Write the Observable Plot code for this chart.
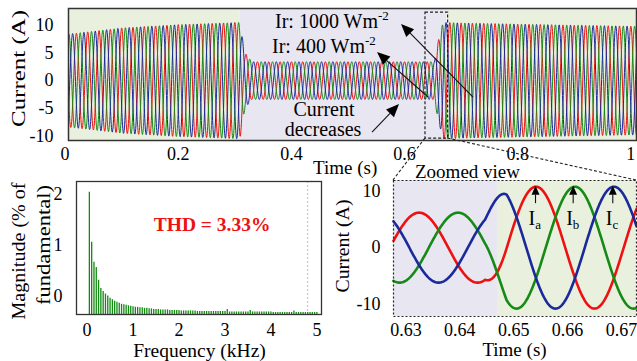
<!DOCTYPE html>
<html><head><meta charset="utf-8">
<script src="https://cdn.jsdelivr.net/npm/d3@7"></script>
<script src="https://cdn.jsdelivr.net/npm/@observablehq/plot@0.6"></script>
<style>
body{margin:0;background:#fff;}
#fig{position:relative;width:637px;height:361px;overflow:hidden;background:#fff;}
#fig svg{position:absolute;}
</style></head><body><div id="fig"></div>
<script>
const SERIF = '"Liberation Serif","Times New Roman",serif';
const RED = "#ee1111", GREEN = "#168a16", BLUE = "#1b2a9a";
const BG_GREEN = "#eaf0de", BG_LAV = "#e8e6f0";

// ---------- Top panel: three-phase grid current (50 Hz) ----------
const mainsHz = 50;
const phaseColors = [RED, GREEN, BLUE];
const phaseShiftDeg = [0, -120, -240];
// peak current envelope (time s, amplitude A)
const topEnvTime = [0.006, 0.05, 0.10, 0.20, 0.309, 0.312, 0.318, 0.33, 0.653, 0.658, 0.668, 0.70, 0.80, 0.90, 1.010];
const topEnvAmp  = [8.4, 8.9, 9.5, 10.1, 10.5, 8.5, 5.0, 3.4, 3.4, 6.5, 10.5, 10.4, 10.2, 10.0, 9.8];
const topXTicks = [0, 0.2, 0.4, 0.6, 0.8, 1];
const topYTicks = [-10, -5, 0, 5, 10];
const topShadeFrom = [0.006, 0.309, 0.675];
const topShadeTo   = [0.309, 0.675, 1.010];
const topShadeFill = [BG_GREEN, BG_LAV, BG_GREEN];
const zoomBoxTime = [0.637, 0.677];
const zoomBoxCurrent = [-10.45, 12.25];

// ---------- Zoomed panel ----------
const zoomRedPeak = 0.65415;   // time of the red peak
const zoomPeriod = 0.0217;
const zoomEnvTime = [0.6277, 0.6447, 0.6487, 0.6728];
const zoomEnvAmp  = [6.2, 6.2, 10.8, 10.8];
const zoomXTicks = [0.63, 0.64, 0.65, 0.66, 0.67];
const zoomYTicks = [-10, 0, 10];
const zoomShadeFrom = [0.6277, 0.647];
const zoomShadeTo   = [0.647, 0.6728];
const zoomShadeFill = [BG_LAV, BG_GREEN];
const peakNames = ["a", "b", "c"];
const peakTimes = [0.65415, 0.66114, 0.66849];

// ---------- FFT panel ----------
const fundamentalKHz = 0.05;
const harmonicOrder = d3.range(1, 101);
const fftMag = [
 2.04, 1.06, 0.67, 0.57, 0.32, 0.16, 0.10, 0.05, 0.01, -0.03,
 -0.06, -0.09, -0.11, -0.13, -0.15, -0.16, -0.17, -0.18, -0.19, -0.20,
 -0.21, -0.21, -0.22, -0.22, -0.23, -0.23, -0.24, -0.24, -0.25, -0.25,
 -0.25, -0.26, -0.26, -0.26, -0.26, -0.27, -0.27, -0.27, -0.27, -0.27,
 -0.28, -0.28, -0.28, -0.28, -0.28, -0.28, -0.28, -0.29, -0.29, -0.29,
 -0.29, -0.29, -0.29, -0.29, -0.29, -0.29, -0.29, -0.29, -0.29, -0.29,
 -0.25, -0.30, -0.30, -0.30, -0.30, -0.30, -0.30, -0.30, -0.30, -0.30,
 -0.27, -0.30, -0.30, -0.30, -0.30, -0.30, -0.30, -0.30, -0.30, -0.30,
 -0.31, -0.31, -0.31, -0.31, -0.31, -0.31, -0.31, -0.31, -0.31, -0.28,
 -0.31, -0.31, -0.31, -0.31, -0.31, -0.31, -0.31, -0.31, -0.31, -0.31];
const fftXTicks = [0, 1, 2, 3, 4, 5];
const fftYTicks = [0, 1, 2];
const fftBase = -0.35;
const fftMarkerKHz = [4.8];
const thdLabel = "THD = 3.33%";

// ---------- build tables ----------
const topEnv = d3.scaleLinear().domain(topEnvTime).range(topEnvAmp).clamp(true);
const topT = d3.range(0.006, 1.0101, 0.0004);
const topWaves = phaseColors.map((c, k) => topT.map(t => ({t, i: topEnv(t) * Math.cos(2*Math.PI*mainsHz*t + phaseShiftDeg[k]*Math.PI/180)})));
const topShade = topShadeFrom.map((a, j) => ({a, b: topShadeTo[j], fill: topShadeFill[j]}));
const topBox = [{t1: zoomBoxTime[0], t2: zoomBoxTime[1], i1: zoomBoxCurrent[0], i2: zoomBoxCurrent[1]}];

const zoomEnv = d3.scaleLinear().domain(zoomEnvTime).range(zoomEnvAmp).clamp(true);
const zoomT = d3.range(zoomEnvTime[0], zoomEnvTime[3] + 1e-6, 0.0001);
const zoomWaves = phaseColors.map((c, k) => zoomT.map(t => ({t, i: zoomEnv(t) * Math.cos(2*Math.PI*(t - zoomRedPeak)/zoomPeriod + phaseShiftDeg[k]*Math.PI/180)})));
const zoomShade = zoomShadeFrom.map((a, j) => ({a, b: zoomShadeTo[j], fill: zoomShadeFill[j]}));

const fft = harmonicOrder.map((h, j) => ({f: h*fundamentalKHz, m: fftMag[j]}));

const fig = document.getElementById("fig");
const baseStyle = {background: "transparent", fontFamily: SERIF, fontSize: "18px", color: "#000", overflow: "visible"};
const fmt = d => String(d);

const topPlot = Plot.plot({
  width: 637, height: 180, marginLeft: 68, marginRight: 1, marginTop: 8, marginBottom: 40,
  style: baseStyle,
  x: {domain: [0.006, 1.010], ticks: topXTicks, tickSize: 0, tickPadding: 7, tickFormat: fmt, label: null},
  y: {domain: [-10.8, 13], ticks: topYTicks, tickSize: 0, tickPadding: 15, tickFormat: fmt, label: null},
  color: {type: "identity"},
  marks: [
    Plot.rect(topShade, {x1: "a", x2: "b", fill: "fill"}),
    ...topWaves.map((w, k) => Plot.line(w, {x: "t", y: "i", stroke: phaseColors[k], strokeWidth: 1})),
    Plot.rect(topBox, {x1: "t1", x2: "t2", y1: "i1", y2: "i2", fill: "none", stroke: "#222", strokeWidth: 1.2, strokeDasharray: "3,2"}),
    Plot.frame({stroke: "#333", strokeWidth: 1.5})
  ]
});

const fftPlot = Plot.plot({
  width: 322, height: 191, marginLeft: 76, marginRight: 1, marginTop: 11, marginBottom: 47,
  style: baseStyle,
  x: {domain: [-0.23, 5.10], ticks: fftXTicks, tickSize: 0, tickPadding: 9, tickFormat: fmt, label: null},
  y: {domain: [fftBase, 2.25], ticks: fftYTicks, tickSize: 0, tickPadding: 14, tickFormat: fmt, label: null},
  marks: [
    Plot.ruleX(fftMarkerKHz, {stroke: "#bbbbbb", strokeWidth: 1, strokeDasharray: "2,2"}),
    Plot.ruleX(fft, {x: "f", y1: fftBase, y2: "m", stroke: "#118a11", strokeWidth: 1.3}),
    Plot.text([thdLabel], {x: 2.72, y: 1.29, text: d => d, fill: "#ee1111", fontWeight: "bold", fontSize: 19.5, textAnchor: "middle", lineAnchor: "bottom"}),
    Plot.frame({stroke: "#333", strokeWidth: 1.3})
  ]
});

const zoomPlot = Plot.plot({
  width: 307, height: 191, marginLeft: 63, marginRight: 1, marginTop: 10, marginBottom: 45,
  style: baseStyle,
  x: {domain: [0.6277, 0.6728], ticks: zoomXTicks, tickSize: 0, tickPadding: 7, tickFormat: fmt, label: null},
  y: {domain: [-12.2, 11.9], ticks: zoomYTicks, tickSize: 0, tickPadding: 13, tickFormat: fmt, label: null},
  color: {type: "identity"},
  marks: [
    Plot.rect(zoomShade, {x1: "a", x2: "b", fill: "fill"}),
    ...zoomWaves.map((w, k) => Plot.line(w, {x: "t", y: "i", stroke: phaseColors[k], strokeWidth: 2.6})),
    Plot.frame({stroke: "#222", strokeWidth: 1.2, strokeDasharray: "2,2"})
  ]
});

const offsets = {top: [0, 0], fft: [0, 170], zoom: [330, 170]};
function place(svg, off) { svg.style.left = off[0] + "px"; svg.style.top = off[1] + "px"; fig.appendChild(svg); }
place(topPlot, offsets.top); place(fftPlot, offsets.fft); place(zoomPlot, offsets.zoom);

function px(plot, off, x, y) { return [off[0] + plot.scale("x").apply(x), off[1] + plot.scale("y").apply(y)]; }
const P = {
  top: (x, y) => px(topPlot, offsets.top, x, y),
  zoom: (x, y) => px(zoomPlot, offsets.zoom, x, y)
};

// ---------- overlay: annotations, titles, connectors ----------
const ov = d3.create("svg").attr("width", 637).attr("height", 361)
  .style("left", "0px").style("top", "0px").style("font-family", SERIF);

function arrow(a, b, len = 13, half = 5.5) {
  const dx = b[0]-a[0], dy = b[1]-a[1], L = Math.hypot(dx, dy), ux = dx/L, uy = dy/L;
  const bx = b[0]-ux*len, by = b[1]-uy*len;
  ov.append("line").attr("x1", a[0]).attr("y1", a[1]).attr("x2", bx).attr("y2", by).attr("stroke", "#111").attr("stroke-width", 1.1);
  ov.append("path").attr("d", `M${b[0]},${b[1]}L${bx - uy*half},${by + ux*half}L${bx + uy*half},${by - ux*half}Z`).attr("fill", "#000");
}
function text(x, y, str, o = {}) {
  const t = ov.append("text").attr("x", x).attr("y", y).attr("font-size", o.size || 19)
    .attr("text-anchor", o.anchor || "start").attr("fill", "#000");
  if (o.rotate) t.attr("x", 0).attr("y", 0).attr("transform", `translate(${x},${y}) rotate(${o.rotate})`);
  if (o.len) t.attr("textLength", o.len).attr("lengthAdjust", "spacingAndGlyphs");
  t.text(str);
  return t;
}

// connectors from the zoom box to the zoomed panel
const boxBL = P.top(zoomBoxTime[0], zoomBoxCurrent[0]), boxBR = P.top(zoomBoxTime[1], zoomBoxCurrent[0]);
const zTL = P.zoom(0.6277, 11.9), zTR = P.zoom(0.6728, 11.9);
[[boxBL, zTL], [boxBR, zTR]].forEach(([a, b]) => ov.append("line").attr("x1", a[0]).attr("y1", a[1]).attr("x2", b[0]).attr("y2", b[1])
  .attr("stroke", "#222").attr("stroke-width", 1.1).attr("stroke-dasharray", "3,2"));

// top-panel annotations (positions in data units)
const irHigh = P.top(0.3719, 9.39), irLow = P.top(0.3666, 4.89);
const t1 = text(irHigh[0], irHigh[1], "Ir: 1000 Wm", {size: 20});
t1.append("tspan").attr("dy", -8).attr("font-size", 13).text("-2");
const t2 = text(irLow[0], irLow[1], "Ir: 400 Wm", {size: 20});
t2.append("tspan").attr("dy", -8).attr("font-size", 13).text("-2");
const cd1 = P.top(0.4585, -6.47), cd2 = P.top(0.4568, -10.08);
text(cd1[0], cd1[1], "Current", {size: 20, anchor: "middle"});
text(cd2[0], cd2[1], "decreases", {size: 20, anchor: "middle"});
arrow(P.top(0.7219, -3.05), P.top(0.5947, 10.12));
arrow(P.top(0.6424, -3.05), P.top(0.5522, 5.07));
arrow(P.top(0.5434, -9.36), P.top(0.5911, -4.31));

// zoomed-panel annotations
peakTimes.forEach((tp, k) => {
  arrow(P.zoom(tp, 7.8), P.zoom(tp, 10.9), 9, 4);
  const p = P.zoom(tp, 3.93);
  const t = text(p[0] - 7, p[1], "I", {size: 20});
  t.append("tspan").attr("dy", 4).attr("font-size", 13).text(peakNames[k]);
});

// axis titles
text(25, 68.5, "Current (A)", {rotate: -90, anchor: "middle", size: 19, len: 117});
text(313, 174, "Time (s)", {size: 19});
text(25, 251, "Magnitude (% of", {rotate: -90, anchor: "middle", size: 19, len: 137});
text(50, 245, "fundamental)", {rotate: -90, anchor: "middle", size: 19, len: 120});
text(199.5, 357, "Frequency (kHz)", {size: 19.5, anchor: "middle"});
text(415, 178, "Zoomed view", {size: 19});
text(349, 246, "Current (A)", {rotate: -90, anchor: "middle", size: 19, len: 93});
text(514.5, 356, "Time (s)", {size: 19, anchor: "middle"});

fig.appendChild(ov.node());
</script></body></html>
